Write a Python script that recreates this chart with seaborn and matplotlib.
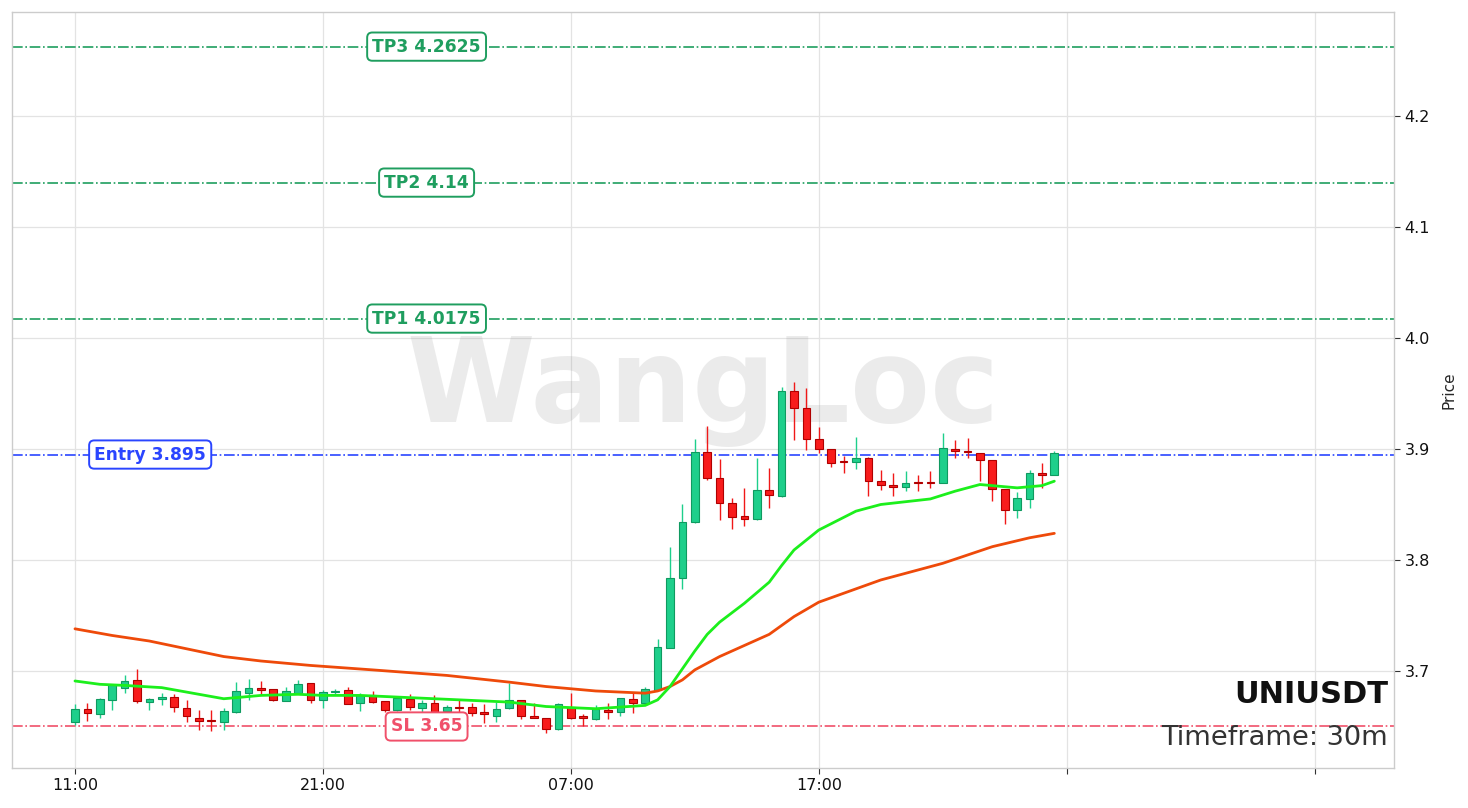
import pandas as pd
import matplotlib
matplotlib.use("Agg")
import matplotlib.pyplot as plt
import numpy as np
import seaborn as sns

# Candles (30m)
opens = [3.654, 3.666, 3.661, 3.674, 3.685, 3.692, 3.672, 3.675, 3.677, 3.667,
         3.658, 3.656, 3.654, 3.663, 3.680, 3.685, 3.684, 3.673, 3.680, 3.689,
         3.674, 3.681, 3.683, 3.671, 3.678, 3.673, 3.665, 3.675, 3.667, 3.671,
         3.664, 3.668, 3.668, 3.663, 3.659, 3.667, 3.674, 3.659, 3.658, 3.648,
         3.668, 3.659, 3.657, 3.665, 3.663, 3.675, 3.671, 3.683, 3.721, 3.784,
         3.834, 3.897, 3.874, 3.851, 3.840, 3.837, 3.863, 3.858, 3.952, 3.937,
         3.909, 3.900, 3.889, 3.888, 3.892, 3.871, 3.868, 3.866, 3.870, 3.870,
         3.869, 3.900, 3.898, 3.896, 3.890, 3.864, 3.845, 3.855, 3.878, 3.877]
closes = [3.666, 3.662, 3.675, 3.687, 3.691, 3.673, 3.675, 3.677, 3.668, 3.659,
          3.655, 3.655, 3.664, 3.682, 3.685, 3.683, 3.674, 3.682, 3.688, 3.674,
          3.681, 3.682, 3.670, 3.678, 3.672, 3.665, 3.676, 3.668, 3.671, 3.663,
          3.668, 3.667, 3.662, 3.661, 3.666, 3.674, 3.659, 3.658, 3.648, 3.670,
          3.658, 3.658, 3.666, 3.663, 3.676, 3.671, 3.684, 3.722, 3.784, 3.834,
          3.897, 3.874, 3.851, 3.839, 3.837, 3.863, 3.859, 3.952, 3.937, 3.909,
          3.900, 3.887, 3.888, 3.892, 3.871, 3.868, 3.866, 3.869, 3.869, 3.869,
          3.901, 3.898, 3.897, 3.890, 3.864, 3.845, 3.856, 3.878, 3.877, 3.896]
highs = [3.670, 3.671, 3.676, 3.687, 3.696, 3.702, 3.676, 3.680, 3.679, 3.674,
         3.665, 3.665, 3.667, 3.690, 3.693, 3.691, 3.684, 3.686, 3.692, 3.689,
         3.683, 3.684, 3.686, 3.680, 3.682, 3.673, 3.676, 3.679, 3.674, 3.678,
         3.669, 3.674, 3.671, 3.670, 3.672, 3.689, 3.674, 3.671, 3.658, 3.671,
         3.680, 3.661, 3.669, 3.671, 3.676, 3.681, 3.686, 3.729, 3.812, 3.850,
         3.909, 3.921, 3.891, 3.856, 3.865, 3.892, 3.883, 3.956, 3.960, 3.955,
         3.920, 3.900, 3.894, 3.911, 3.893, 3.881, 3.878, 3.880, 3.877, 3.880,
         3.914, 3.908, 3.910, 3.896, 3.890, 3.864, 3.861, 3.881, 3.887, 3.898]
lows = [3.651, 3.655, 3.658, 3.665, 3.680, 3.671, 3.665, 3.669, 3.663, 3.654,
        3.647, 3.646, 3.647, 3.662, 3.674, 3.678, 3.673, 3.673, 3.679, 3.671,
        3.667, 3.679, 3.670, 3.664, 3.671, 3.663, 3.664, 3.665, 3.663, 3.662,
        3.659, 3.663, 3.659, 3.653, 3.654, 3.666, 3.657, 3.658, 3.644, 3.647,
        3.657, 3.650, 3.656, 3.657, 3.659, 3.662, 3.670, 3.682, 3.721, 3.774,
        3.833, 3.872, 3.836, 3.828, 3.831, 3.836, 3.847, 3.857, 3.908, 3.899,
        3.896, 3.884, 3.878, 3.882, 3.858, 3.863, 3.858, 3.862, 3.862, 3.865,
        3.869, 3.892, 3.892, 3.871, 3.853, 3.832, 3.838, 3.847, 3.865, 3.877]

# Moving averages read at a few candles
ma_fast_idx = [0, 2, 4, 7, 10, 12, 13, 15, 18, 20, 23, 27, 31, 35, 38, 40, 42, 46, 47, 48,
               49, 50, 51, 52, 54, 56, 57, 58, 59, 60, 63, 65, 69, 71, 73, 75, 76, 78, 79]
ma_fast = [3.691, 3.688, 3.687, 3.685, 3.679, 3.675, 3.676, 3.678, 3.679, 3.678,
           3.678, 3.676, 3.674, 3.672, 3.668, 3.667, 3.666, 3.669, 3.674, 3.686,
           3.702, 3.718, 3.733, 3.744, 3.761, 3.780, 3.795, 3.809, 3.818, 3.827,
           3.844, 3.850, 3.855, 3.862, 3.868, 3.866, 3.865, 3.867, 3.871]
ma_slow_idx = [0, 3, 6, 9, 12, 15, 19, 24, 30, 35, 38, 40, 42, 46, 47, 48, 49, 50,
               52, 54, 56, 58, 60, 65, 70, 74, 77, 79]
ma_slow = [3.738, 3.732, 3.727, 3.720, 3.713, 3.709, 3.705, 3.701, 3.696, 3.690,
           3.686, 3.684, 3.682, 3.680, 3.682, 3.686, 3.692, 3.701, 3.713, 3.723,
           3.733, 3.749, 3.762, 3.782, 3.797, 3.812, 3.820, 3.824]

# Trade levels
level_names = ["TP3", "TP2", "TP1", "Entry", "SL"]
level_values = [4.2625, 4.14, 4.0175, 3.895, 3.65]
level_colors = ["#1f9e5f", "#1f9e5f", "#1f9e5f", "#2a45ff", "#f0506a"]
level_label_x = [0.30, 0.30, 0.30, 0.10, 0.30]

tick_pos = [0, 20, 40, 60, 80, 100]
tick_labels = ["11:00", "21:00", "07:00", "17:00", "", ""]

df = pd.DataFrame({"open": opens, "close": closes, "high": highs, "low": lows})
df["i"] = np.arange(len(df))
up = df["close"] >= df["open"]

sns.set_theme(style="whitegrid")
fig = plt.figure(figsize=(14.68, 8.08), dpi=100)
ax = fig.add_axes([12 / 1468, 1 - 768 / 808, 1382 / 1468, 756 / 808])

# wicks
for sel, col in [(up, "#1ecf8b"), (~up, "#f01818")]:
    d = df[sel]
    ax.vlines(d["i"], d["low"], d["high"], color=col, linewidth=1.0, zorder=3)

# bodies
for sel, face, edge in [(up, "#1ecf8b", "#0f9a60"), (~up, "#f81c1c", "#b00000")]:
    d = df[sel]
    bottom = np.minimum(d["open"], d["close"])
    height = np.maximum((d["close"] - d["open"]).abs(), 0.0008)
    ax.bar(d["i"], height, bottom=bottom, width=0.62, color=face,
           edgecolor=edge, linewidth=0.8, zorder=4)

sns.lineplot(x=ma_slow_idx, y=ma_slow, ax=ax, color="#ee4a0a", linewidth=2, zorder=5)
sns.lineplot(x=ma_fast_idx, y=ma_fast, ax=ax, color="#1cef1c", linewidth=2, zorder=5)

for name, val, col, lx in zip(level_names, level_values, level_colors, level_label_x):
    ax.axhline(val, color=col, linestyle="-.", linewidth=1.2, zorder=2)
    ax.text(lx, val, f"{name} {val:g}", transform=ax.get_yaxis_transform(),
            ha="center", va="center", fontsize=12.3, fontweight="bold", color=col,
            zorder=6, bbox=dict(boxstyle="round,pad=0.3", fc="white", ec=col, lw=1.4))

ax.text(0.5, 0.5, "WangLoc", transform=ax.transAxes, ha="center", va="center",
        fontsize=84, fontweight="bold", color="#888888", alpha=0.16, zorder=1)
ax.text(0.9955, 0.097, "UNIUSDT", transform=ax.transAxes, ha="right", va="center",
        fontsize=22, fontweight="bold", color="#111111", zorder=7)
ax.text(0.9955, 0.04, "Timeframe: 30m", transform=ax.transAxes, ha="right", va="center",
        fontsize=19.6, color="#333333", zorder=7)

ax.set_xlim(-5.08, 106.4)
ax.set_ylim(3.6126, 4.2937)
ax.set_xticks(tick_pos)
ax.set_xticklabels(tick_labels)
ax.set_yticks([3.7, 3.8, 3.9, 4.0, 4.1, 4.2])
ax.set_yticklabels(["3.7", "3.8", "3.9", "4.0", "4.1", "4.2"])
ax.yaxis.tick_right()
ax.yaxis.set_label_position("right")
ax.set_ylabel("Price", fontsize=11, labelpad=8)
ax.tick_params(axis="both", which="both", length=4, width=0.8, color="#333333",
               labelsize=11.5, labelcolor="#111111", bottom=True, right=True)
ax.grid(True, color="#e3e3e3", linewidth=0.9)
for sp in ax.spines.values():
    sp.set_color("#cccccc")
    sp.set_linewidth(1)

fig.savefig("out.png", dpi=100)
